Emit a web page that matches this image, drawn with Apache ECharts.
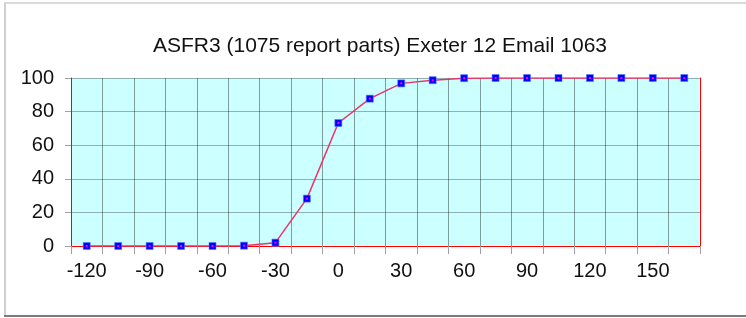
<!DOCTYPE html>
<html>
<head>
<meta charset="utf-8">
<script src="https://cdn.jsdelivr.net/npm/echarts@6/dist/echarts.min.js"></script>
<style>
html,body{margin:0;padding:0;background:#fff;}
#chart{width:746px;height:318px;}
</style>
</head>
<body>
<div id="chart"></div>
<script>
const titleText = 'ASFR3 (1075 report parts) Exeter 12 Email 1063';
const categories = ['-120','-105','-90','-75','-60','-45','-30','-15','0','15','30','45','60','75','90','105','120','135','150','165'];
const values = [0, 0, 0, 0, 0, 0.2, 2, 28.2, 73.2, 87.7, 96.8, 98.7, 99.9, 100, 100, 100, 100, 100, 100, 100];
const yMin = 0, yMax = 100, yStep = 20;

const chart = echarts.init(document.getElementById('chart'), null, {renderer: 'canvas'});
const font = 'Liberation Sans, Arial, sans-serif';
const red = '#ff0000';
chart.setOption({
  animation: false,
  backgroundColor: '#ffffff',
  title: {
    text: titleText,
    left: 148,
    top: 31,
    textStyle: {fontFamily: font, fontSize: 21, fontWeight: 'normal', color: '#111'}
  },
  graphic: [
    {type: 'line', shape: {x1: 4, y1: 3, x2: 746, y2: 3}, style: {stroke: '#dadada', lineWidth: 2}, silent: true},
    {type: 'line', shape: {x1: 5, y1: 3, x2: 5, y2: 316}, style: {stroke: '#d0d0d0', lineWidth: 2}, silent: true},
    {type: 'line', shape: {x1: 4, y1: 316, x2: 746, y2: 316}, style: {stroke: '#7a7a7a', lineWidth: 2}, silent: true}
  ],
  grid: {
    left: 71, right: 46, top: 78, bottom: 72,
    show: true, backgroundColor: '#ccffff', borderWidth: 0,
    containLabel: false
  },
  xAxis: [
    {
      type: 'category',
      data: categories,
      boundaryGap: true,
      axisLine: {show: true, lineStyle: {color: red, width: 1}},
      axisTick: {show: true, interval: 0, length: 8, lineStyle: {color: '#a0a0a0'}},
      splitLine: {show: true, interval: 0, lineStyle: {color: 'rgba(0,0,0,0.38)', width: 1}},
      axisLabel: {interval: 1, margin: 15, fontFamily: font, fontSize: 20, color: '#111'},
      z: 2
    },
    {
      type: 'category',
      data: categories,
      position: 'top',
      boundaryGap: true,
      axisLine: {show: true, lineStyle: {color: red, width: 1}},
      axisTick: {show: false},
      axisLabel: {show: false},
      splitLine: {show: false},
      z: 2
    }
  ],
  yAxis: [
    {
      type: 'value',
      min: yMin, max: yMax, interval: yStep,
      axisLine: {show: true, lineStyle: {color: red, width: 1}},
      axisTick: {show: true, length: 6, lineStyle: {color: '#a0a0a0'}},
      splitLine: {show: true, lineStyle: {color: 'rgba(0,0,0,0.3)', width: 1}},
      axisLabel: {margin: 17, fontFamily: font, fontSize: 20, color: '#111'},
      z: 2
    },
    {
      type: 'value',
      position: 'right',
      min: yMin, max: yMax, interval: yStep,
      axisLine: {show: true, lineStyle: {color: red, width: 1}},
      axisTick: {show: false},
      axisLabel: {show: false},
      splitLine: {show: false},
      z: 2
    }
  ],
  series: [
    {
      type: 'line',
      data: values,
      symbol: 'rect',
      symbolSize: 7,
      lineStyle: {color: '#ee3366', width: 1.5},
      itemStyle: {color: '#0000ff', borderColor: '#5577ff', borderWidth: 0.6},
      z: 3
    },
    {
      type: 'line',
      data: values,
      symbol: 'rect',
      symbolSize: 2,
      lineStyle: {width: 0, opacity: 0},
      itemStyle: {color: '#ff00ff'},
      z: 4
    }
  ]
});
</script>
</body>
</html>
